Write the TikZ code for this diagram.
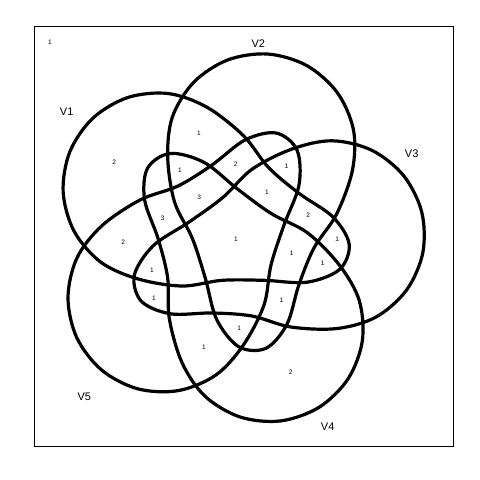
\documentclass[tikz,border=0pt]{standalone}
\usepackage{fontspec}
\setmainfont{Liberation Sans}
\usetikzlibrary{positioning}

\begin{document}
\begin{tikzpicture}[x=1pt, y=-1pt,
    set/.style={line width=3.2pt, line join=round},
    lab/.style={font=\fontsize{11}{12}\selectfont, inner sep=0pt},
    num/.style={font=\fontsize{6.5}{7}\selectfont, inner sep=0pt}
]
\useasboundingbox (0,0) rectangle (480,480);
\node[draw, line width=0.7pt, minimum width=419pt, minimum height=420pt, inner sep=0pt] (frame) at (243.7,236.5) {};

% the five sets, one shape turned round the centre
\foreach \a in {0,-72,-144,-216,-288}
  \draw[set, rotate around={\a:(236,239)}] plot[smooth cycle, tension=0.55] coordinates {
    (68,298) (76.8,258.3) (101.6,226) (140,200) (178,186) (212,165) (245,140) (276,133)
    (297,150) (299,185) (284,225) (271,265) (264,305) (243.4,345) (215.9,375)
    (178.3,390.6) (137.7,388.8) (101.6,370) (76.8,337.7)};

% set names
\node[lab] (v1) at (66.7,111.7) {V1};
\node[lab] (v2) at (258.3,44) {V2};
\node[lab] (v3) at (411.7,153.3) {V3};
\node[lab] (v4) at (327.7,426.7) {V4};
\node[lab] (v5) at (84.3,396.7) {V5};

% counts
\node[num] (none) at (50,42.7) {1};
\node[num] (r1) at (199,133.3) {1};
\node[num] (r2) at (114.3,162.3) {2};
\node[num] (r3) at (180,170) {1};
\node[num] (r4) at (235.7,164) {2};
\node[num] (r5) at (286.7,166) {1};
\node[num] (r6) at (199.3,197.3) {3};
\node[num] (r7) at (267,192) {1};
\node[num] (r8) at (162.7,218) {3};
\node[num] (r9) at (308.3,215.7) {2};
\node[num] (r10) at (123.3,242.3) {2};
\node[num] (r11) at (236,239.3) {1};
\node[num] (r12) at (337.3,239.3) {1};
\node[num] (r13) at (291.7,253.3) {1};
\node[num] (r14) at (322.7,263.3) {1};
\node[num] (r15) at (152,270) {1};
\node[num] (r16) at (154,298) {1};
\node[num] (r17) at (281.7,300.7) {1};
\node[num] (r18) at (239.3,328) {1};
\node[num] (r19) at (204,347) {1};
\node[num] (r20) at (290.7,372.3) {2};
\end{tikzpicture}
\end{document}
